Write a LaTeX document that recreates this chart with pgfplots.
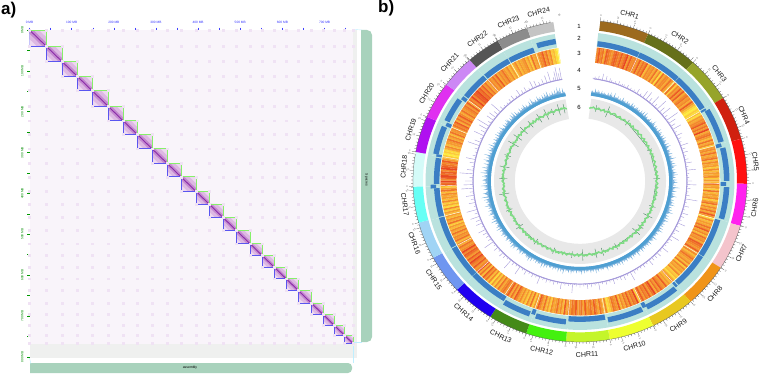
\documentclass[border=0pt]{standalone}
\usepackage{fontspec}
\setmainfont{Liberation Sans}
\usepackage{pgfplots}
\pgfplotsset{compat=1.18}
\usepgfplotslibrary{polar}
\definecolor{hicBg}{HTML}{F9F4FA}
\definecolor{hicSpot}{HTML}{F0E2F4}
\definecolor{hicA}{HTML}{EDD8F0}
\definecolor{hicB}{HTML}{DDB8E3}
\definecolor{hicC}{HTML}{C48AD0}
\definecolor{hicD}{HTML}{8A2BA8}
\definecolor{hicG}{HTML}{86F06A}
\definecolor{hicL}{HTML}{5A55F0}
\definecolor{barG}{HTML}{A8D2BC}
\definecolor{bandG}{HTML}{EFF0EF}
\definecolor{tealR}{HTML}{B9E2DE}
\definecolor{stripB}{HTML}{3B7EC4}
\definecolor{purL}{HTML}{A69BDA}
\definecolor{bluF}{HTML}{78B0DC}
\definecolor{bluD}{HTML}{4F9FD2}
\definecolor{grayR}{HTML}{E8E8E8}
\definecolor{grnL}{HTML}{7EDC84}
\definecolor{grnD}{HTML}{3F7F58}
\pgfplotsset{colormap={heat}{rgb255=(255,236,62) rgb255=(250,188,56) rgb255=(243,138,44) rgb255=(232,72,34)}}
% ---- track values, one digit per sector step ----
\def\heatdata{6867487657 8768679586 6758576836 5647361746 6475272658 5846756485 3102131546 6857594675 3746256474 5736452635
4625374527 3546257364 7485163547 5846375648 7658463575 4637264536 2314635485 6857497586 7586296758 5746385674
2163574685 7658476586 7564836475 4625374684 5273625364 6847486576 4736251637 5837496586 7968578696 5746375647
4635274635 3526142635 4637528796 8978698768 5320214635 5746375647 6847586475 6758476968 8978685746 6575846575
4635246354 5635274536 6857462310}
\def\purdata{0102040302 1010201102 0101030105 0603070208 0407020905 0306010402 0105020301 0204010601 0103060201 0208010301
0402010501 0301060201 0105010302 0204010201 0102060103 0201030102 0105010203 0102010601 0104010201 0201050102
0103010601 0207010203 0103010702 0203050104 0306020701 0402050208 0605020904 0103060201 0208040107 0306090205
0503080201 0102030104 0203010504 0203050702 6948}
\def\bludata{2315243142 3214253162 2413152314 2315241342 3142516231 2413263142 3152431425 2431526314 3251437142 5263142536
2415362418 3251426314 2536142537 3142516324 2415263142 3162431524 2314251326 1324152314 2315142413 1423152132
3142513241 2314152314 1325142316 2415132413 3142516234 2413152634 3124153241 2536142315 3142532416 2531427153
3164251437 4253618246 3152471536 5264183527 3261472538 2416352714 3152416253 4263152436 5142637152 3152436241
2517324163 4152637142 5263847162}
\def\grndata{4556545654 5645565456 6545654565 5456546545 5654565456 4565465456 5465654565 4565456546 5654565465 4565645654
5456546565 4565456546 5465645654 5645456546 5456565465 4565645654 5465654565 6545645654 5456546456 5645654565
4565456456 5465645654 6545654565 5645456546 5465654565 4565645654 5456546565 5645654456 5465654565 6545645456
5645654565 5456546456 4565456546 5654565456 5654}
% ---- builders ----
\newcount\idx
\def\app#1{\xdef\pts{\unexpanded\expandafter{\pts}#1}}
\def\digitloop#1{\ifx#1\relax\else\proc{#1}\global\advance\idx 1 \expandafter\digitloop\fi}
% heat
\def\proc#1{\pgfmathsetmacro\aa{90-7-\the\idx*0.8}\pgfmathsetmacro\ab{\aa-0.8}\app{(\aa,0.74)[#1](\aa,0.835)[#1](\ab,0.835)[#1](\ab,0.74)[#1]}}
\gdef\pts{}\idx=0 \expandafter\digitloop\heatdata\relax
\let\heatpts\pts
% purple
\def\proc#1{\pgfmathsetmacro\aa{90-7-\the\idx}\pgfmathsetmacro\rr{0.646+#1*0.0085}\app{(\aa,0.64)(\aa,\rr)(\aa,0.64)}}
\gdef\pts{}\idx=0 \expandafter\digitloop\purdata\relax
\let\purpts\pts
% blue
\def\proc#1{\pgfmathsetmacro\aa{90-7-\the\idx*0.8}\pgfmathsetmacro\ab{\aa-0.4}\pgfmathsetmacro\rr{0.552+#1*0.006}\app{(\aa,\rr)(\ab,0.554)}}
\gdef\pts{}\idx=0 \expandafter\digitloop\bludata\relax
\let\blupts\pts
% green
\def\proc#1{\pgfmathsetmacro\aa{90-7-\the\idx}\pgfmathsetmacro\rr{0.43+#1*0.006}\app{(\aa,\rr)}}
\gdef\pts{}\idx=0 \expandafter\digitloop\grndata\relax
\let\grnpts\pts
% spots at block borders
\def\blist{0,40.3,77.1,113.9,148.3,186.3,221.9,255.1,290.7,326.3,359.5,395.1,425.9,459.2,490,523.3,551.7,580.2,608.7,637.2,668,696.5,722.6,746.4,767.7}
\gdef\pts{}
\foreach \x in \blist {\foreach \y in \blist {\xdef\pts{\pts(\x,\y)}}}
\let\spotpts\pts
\newcommand\Block[2]{%
 \pgfmathsetmacro\pa{#1+0.55*(#2-#1)}\pgfmathsetmacro\pb{#2-0.55*(#2-#1)}%
 \pgfmathsetmacro\qa{#1+0.22*(#2-#1)}\pgfmathsetmacro\qb{#2-0.22*(#2-#1)}%
 \edef\temp{\noexpand\addplot[fill=hicA,draw=none] coordinates {(#1,#1)(#2,#1)(#2,#2)(#1,#2)};%
 \noexpand\addplot[fill=hicB,draw=none] coordinates {(#1,#1)(\pa,#1)(#2,\pb)(#2,#2)(\pb,#2)(#1,\pa)};%
 \noexpand\addplot[fill=hicC,draw=none] coordinates {(#1,#1)(\qa,#1)(#2,\qb)(#2,#2)(\qb,#2)(#1,\qa)};%
 \noexpand\addplot[hicD,line width=0.9pt] coordinates {(#1,#1)(#2,#2)};%
 \noexpand\addplot[hicG,line width=0.7pt] coordinates {(#1,#1)(#2,#1)(#2,#2)};%
 \noexpand\addplot[hicL,line width=0.7pt] coordinates {(#1,#1)(#1,#2)(#2,#2)};}\temp}
\newcommand\ringseg[5]{%
 \pgfmathsetmacro\rsN{int(max(1,ceil((#3-#2)/1.5)))}%
 \pgfmathsetmacro\rsD{(#3-#2)/\rsN}%
 \gdef\pts{}%
 \foreach \i in {0,...,\rsN}{\pgfmathsetmacro\rsA{90-#2-\i*\rsD}\xdef\pts{\pts(\rsA,#5)}}%
 \foreach \i in {\rsN,...,0}{\pgfmathsetmacro\rsA{90-#2-\i*\rsD}\xdef\pts{\pts(\rsA,#4)}}%
 \edef\temp{\noexpand\addplot[fill=#1,draw=none,data cs=polar] coordinates {\pts};}\temp}
\newcommand\TL[2]{%
 \pgfmathsetmacro\tx{1.036*sin(#1)}\pgfmathsetmacro\ty{1.036*cos(#1)}%
 \pgfmathsetmacro\tr{#1<180 ? 90-#1 : 270-#1}%
 \edef\temp{\noexpand\node[rotate=\tr,inner sep=0pt,text=black!60,font=\noexpand\fontsize{2.6}{3}\noexpand\selectfont] at (axis cs:\tx,\ty) {#2};}\temp}
\newcommand\Chr[4]{% number, start, end, colour
 \definecolor{c#1}{HTML}{#4}%
 \ringseg{c#1}{#2}{#3}{0.94}{1.0}%
 \ringseg{tealR}{#2+0.2}{#3-0.2}{0.84}{0.925}%
 \pgfmathsetmacro\mB{90-#3}%
 \addplot[white,line width=0.4pt,data cs=polar] coordinates {(\mB,0.74)(\mB,0.835)};%
 \pgfmathsetmacro\tkN{int((#3-#2)/1.16)}%
 \gdef\pts{}%
 \foreach \i in {0,...,\tkN}{\pgfmathsetmacro\rsA{90-#2-\i*1.16}\pgfmathsetmacro\rsL{mod(\i,5)==0 ? 1.024 : 1.012}\xdef\pts{\pts(\rsA,1.0)(\rsA,\rsL)(\rsA,1.0)}}%
 \edef\temp{\noexpand\addplot[black!70,line width=0.25pt,data cs=polar] coordinates {\pts};}\temp
 \TL{#2}{0}\TL{#2+5.8}{12}\TL{#2+11.6}{25}%
 \pgfmathsetmacro\cm{(#2+#3)/2+0.5}%
 \pgfmathsetmacro\cr{1.056+0.022*abs(cos(\cm))}%
 \pgfmathsetmacro\tx{\cr*sin(\cm)}\pgfmathsetmacro\ty{\cr*cos(\cm)}%
 \pgfmathsetmacro\tr{\cm<90 ? -\cm : (\cm<270 ? 180-\cm : 360-\cm)}%
 \edef\temp{\noexpand\node[rotate=\tr,inner sep=0pt,text=black!90,font=\noexpand\fontsize{7}{7}\noexpand\selectfont] at (axis cs:\tx,\ty) {CHR#1};}\temp}
\newcommand\BS[3]{\ifnum#3=0 \ringseg{stripB}{#1}{#2}{0.842}{0.875}\else\ringseg{stripB}{#1}{#2}{0.862}{0.895}\fi}
\begin{document}
\begin{tikzpicture}[x=1pt,y=1pt]
\useasboundingbox (0,0) rectangle (760,374);
% ===================== contact map =====================
\begin{axis}[at={(29.5pt,16pt)},anchor=south west,scale only axis,width=327.5pt,height=328pt,
 xmin=0,xmax=777,ymin=0,ymax=803,y dir=reverse,axis line style={draw=none},
 xtick={0,50,...,750},ytick={0,50,...,800},
 xticklabels={0 MB,,100 MB,,200 MB,,300 MB,,400 MB,,500 MB,,600 MB,,700 MB,},
 yticklabels={0 MB,,100 MB,,200 MB,,300 MB,,400 MB,,500 MB,,600 MB,,700 MB,,800 MB},
 xtick pos=right,ytick pos=left,xticklabel pos=right,yticklabel pos=left,
 tick align=outside,major tick length=2.5pt,
 x tick style={color=blue!75,line width=0.4pt},y tick style={color=green!60!black,line width=0.4pt},
 x tick label style={text=blue!80,font=\fontsize{3.2}{4}\selectfont},
 y tick label style={text=green!55!black,font=\fontsize{3.2}{4}\selectfont,rotate=90,anchor=south},
 axis on top=false]
\addplot[fill=hicBg,draw=none] coordinates {(0,0)(777,0)(777,803)(0,803)};
\edef\temp{\noexpand\addplot[only marks,color=hicSpot,mark=square*,mark size=0.9pt] coordinates {\spotpts};}\temp
\addplot[fill=bandG,draw=none] coordinates {(0,767.7)(777,767.7)(777,803)(0,803)};
\addplot[fill=bandG,draw=none] coordinates {(767.7,0)(777,0)(777,803)(767.7,803)};
\Block{0}{40.3}\Block{40.3}{77.1}\Block{77.1}{113.9}\Block{113.9}{148.3}\Block{148.3}{186.3}\Block{186.3}{221.9}
\Block{221.9}{255.1}\Block{255.1}{290.7}\Block{290.7}{326.3}\Block{326.3}{359.5}\Block{359.5}{395.1}\Block{395.1}{425.9}
\Block{425.9}{459.2}\Block{459.2}{490}\Block{490}{523.3}\Block{523.3}{551.7}\Block{551.7}{580.2}\Block{580.2}{608.7}
\Block{608.7}{637.2}\Block{637.2}{668}\Block{668}{696.5}\Block{696.5}{722.6}\Block{722.6}{746.4}\Block{746.4}{767.7}
\end{axis}
% ===================== page-level items =====================
\begin{axis}[at={(0pt,0pt)},anchor=south west,scale only axis,width=760pt,height=374pt,
 xmin=0,xmax=760,ymin=0,ymax=374,y dir=reverse,hide axis,clip=false]
\addplot[fill=barG,draw=none,rounded corners=5pt] coordinates {(361,30)(372,30)(372,342)(361,342)};
\addplot[fill=barG,draw=none,rounded corners=4pt] coordinates {(30,363)(352,363)(352,373)(30,373)};
\addplot[color=blue!25!cyan!25,line width=0.4pt] coordinates {(355,29.5)(362,30)};
\addplot[color=blue!25!cyan!25,line width=0.4pt] coordinates {(354,342)(362,342)};
\addplot[color=blue!25!cyan!25,line width=0.4pt] coordinates {(29.5,358)(31,364)};
\addplot[color=blue!25!cyan!25,line width=0.4pt] coordinates {(353,346)(353,363)};
\node[rotate=-90,inner sep=0pt,font=\fontsize{3.4}{4}\selectfont] at (axis cs:366.5,180) {Species};
\node[inner sep=0pt,font=\fontsize{3.4}{4}\selectfont] at (axis cs:190,368) {assembly};
\node[inner sep=0pt,anchor=west,font=\fontsize{17}{17}\selectfont\bfseries] at (axis cs:1,10) {a)};
\node[inner sep=0pt,anchor=west,font=\fontsize{17}{17}\selectfont\bfseries] at (axis cs:378,8) {b)};
\node[inner sep=0pt,font=\fontsize{6}{6}\selectfont] at (axis cs:579,26) {1};
\node[inner sep=0pt,font=\fontsize{6}{6}\selectfont] at (axis cs:579,38) {2};
\node[inner sep=0pt,font=\fontsize{6}{6}\selectfont] at (axis cs:579,53) {3};
\node[inner sep=0pt,font=\fontsize{6}{6}\selectfont] at (axis cs:579,70) {4};
\node[inner sep=0pt,font=\fontsize{6}{6}\selectfont] at (axis cs:579,88) {5};
\node[inner sep=0pt,font=\fontsize{6}{6}\selectfont] at (axis cs:579,107) {6};
\end{axis}
% ===================== circular tracks =====================
\begin{axis}[at={(413pt,32pt)},anchor=south west,scale only axis,width=334pt,height=322pt,
 xmin=-1,xmax=1,ymin=-1,ymax=1,hide axis,clip=false]
\ringseg{grayR}{7.5}{350.3}{0.39}{0.515}
\edef\temp{\noexpand\addplot[patch,patch type=rectangle,shader=flat,line width=0.05pt,line join=round,point meta=explicit,point meta min=0,point meta max=9,colormap name=heat,data cs=polar] coordinates {\heatpts};}\temp
\Chr{1}{7}{24.1}{9C6A1E}\Chr{2}{24.1}{42.6}{66701A}\Chr{3}{42.6}{59}{96A42A}\Chr{4}{59}{74.8}{D0200F}
\Chr{5}{74.8}{91}{FF1010}\Chr{6}{91}{106.2}{FF22EE}\Chr{7}{106.2}{122.6}{F4C4CC}\Chr{8}{122.6}{138.5}{F09418}
\Chr{9}{138.5}{154}{E8C820}\Chr{10}{154}{169.7}{EEFF30}\Chr{11}{169.7}{184.8}{C4F52A}\Chr{12}{184.8}{198.8}{44F00F}
\Chr{13}{198.8}{212.5}{448A18}\Chr{14}{212.5}{227.5}{2000F0}\Chr{15}{227.5}{241.5}{6F96F0}\Chr{16}{241.5}{255}{A0D4F5}
\Chr{17}{255}{268}{66FFF5}\Chr{18}{268}{280.4}{D4FBF8}\Chr{19}{280.4}{293.5}{B010F0}\Chr{20}{293.5}{306.8}{E030F0}
\Chr{21}{306.8}{318.7}{CC88F5}\Chr{22}{318.7}{330.5}{555555}\Chr{23}{330.5}{341.6}{8C8C8C}\Chr{24}{341.6}{350.8}{C4C4C4}
% strip track
\BS{7}{24}{0}\BS{24.2}{42.5}{0}\BS{42.7}{58.5}{0}\BS{59}{59.8}{0}\BS{60}{74}{1}\BS{74.5}{76}{0}\BS{76.5}{90}{1}\BS{90.5}{92}{0}
\BS{92.5}{105.5}{1}\BS{106.2}{122.4}{0}\BS{122.7}{137.5}{0}\BS{138}{139}{0}\BS{139.5}{153}{1}\BS{153}{154.5}{0}\BS{155}{169}{1}
\BS{170}{184.6}{0}\BS{185.5}{197.5}{1}\BS{198}{199.5}{0}\BS{200}{211}{1}\BS{211.5}{213}{0}\BS{213}{227.4}{0}\BS{227.6}{241.3}{0}
\BS{241.7}{254.8}{0}\BS{255.2}{267}{0}\BS{267}{268.5}{1}\BS{268.8}{279.5}{0}\BS{280}{281}{0}\BS{281}{292.5}{1}\BS{293}{294.5}{0}
\BS{295}{305}{1}\BS{305.5}{307}{0}\BS{307.5}{318.5}{0}\BS{319}{330.3}{0}\BS{330.7}{341.3}{0}\BS{343}{350.5}{1}
% purple track
\ringseg{purL}{7.5}{350.5}{0.637}{0.643}
\edef\temp{\noexpand\addplot[purL,line width=0.4pt,data cs=polar] coordinates {\purpts};}\temp
% blue track
\gdef\pts{}\foreach \i in {0,4,...,344}{\pgfmathsetmacro\rsA{90-351+\i}\xdef\pts{\pts(\rsA,0.534)}}
\edef\temp{\noexpand\addplot[fill=bluF,draw=none,data cs=polar] coordinates {\blupts\pts};}\temp
\ringseg{bluD}{7}{350.8}{0.534}{0.552}
% green track
\gdef\pts{}\foreach \t/\h in {12/.02,21/.035,38/.02,65/.015,88/.02,110/.02,118/.03,128/.02,133/.03,152/.02,163/.025,168/.03,178/.035,186/.02,200/.02,215/.02,232/.025,247/.02,260/.03,272/.025,281/.03,290/.02,300/.035,306/.03,313/.03,320/.025,328/.03,334/.035,339/.02,344/.035,348/.03}{%
 \pgfmathsetmacro\rsA{90-\t}\pgfmathsetmacro\rsL{0.46+\h}\pgfmathsetmacro\rsM{0.46-\h}\xdef\pts{\pts(\rsA,0.46)(\rsA,\rsL)(\rsA,\rsM)(\rsA,0.46)}}
\edef\temp{\noexpand\addplot[grnD,line width=0.35pt,data cs=polar] coordinates {\pts};}\temp
\edef\temp{\noexpand\addplot[grnL,line width=1.5pt,data cs=polar] coordinates {\grnpts};}\temp
\end{axis}
\end{tikzpicture}
\end{document}
